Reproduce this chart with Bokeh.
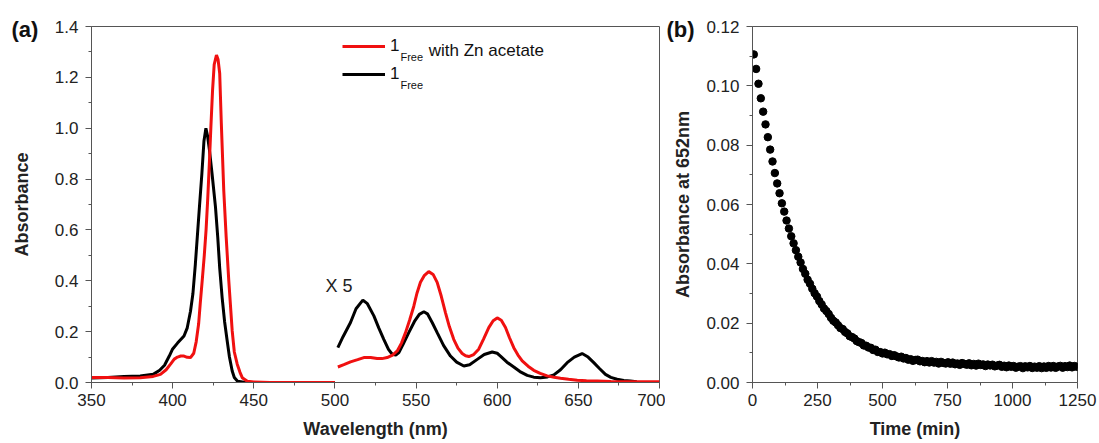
from bokeh.plotting import figure
from bokeh.layouts import row
from bokeh.models import (FixedTicker, Label, Legend, LegendItem,
                          PrintfTickFormatter, Range1d)
from bokeh.core.properties import value
from bokeh.embed import file_html
from bokeh.resources import INLINE

FONT = "Liberation Sans"
RED = "#f01010"
AXIS_GREY = "#555555"

# ---- (a) UV-vis spectra: Soret region (350-500 nm) ----
soret_wl_free = [350, 360, 370, 380, 388, 392, 395, 398, 400, 403, 407, 409,
                 411, 412.5, 414, 415.5, 416.5, 418, 419.3, 420.5, 421.5, 422.7,
                 424.3, 426.4, 427.8, 429, 430.5, 432, 433.6, 435, 436.7, 438,
                 440, 445, 500]
soret_abs_free = [0.018, 0.020, 0.024, 0.026, 0.032, 0.048, 0.068, 0.105, 0.132,
                  0.155, 0.183, 0.215, 0.28, 0.35, 0.466, 0.60, 0.69, 0.82, 0.95,
                  1.0, 0.97, 0.913, 0.82, 0.69, 0.571, 0.45, 0.334, 0.24, 0.164,
                  0.10, 0.045, 0.02, 0.005, 0.0, 0.0]

soret_wl_zn = [350, 360, 370, 380, 388, 392.5, 396, 398.7, 401, 403, 405, 407,
               409, 411, 413, 414.5, 416, 417, 418.2, 419.5, 420.6, 421.6, 422.6,
               423.6, 424.6, 425.6, 427, 428, 429, 430, 431.5, 433, 434.6, 436.7,
               438, 439.8, 441.5, 442.9, 446, 450, 460, 500]
soret_abs_zn = [0.020, 0.020, 0.018, 0.019, 0.024, 0.032, 0.05, 0.072, 0.092,
                0.100, 0.104, 0.104, 0.099, 0.098, 0.115, 0.16, 0.23, 0.31, 0.40,
                0.50, 0.60, 0.72, 0.86, 1.01, 1.15, 1.25, 1.288, 1.27, 1.215,
                1.018, 0.755, 0.571, 0.40, 0.203, 0.12, 0.072, 0.04, 0.019,
                0.005, 0.002, 0.0, 0.0]

# ---- Q-band region (500-700 nm), plotted five times enlarged ----
q_wl_free = [501.8, 505, 509.6, 513, 517.2, 520, 524, 527, 530.1, 533, 535.3,
             537.5, 539.4, 542, 545.5, 549, 552, 554.8, 557, 560, 563, 567,
             571.2, 575, 579.4, 583, 587.7, 592, 596.9, 600, 602, 606, 610.2,
             614, 618.5, 622.5, 626.7, 631, 634.9, 639, 643.1, 647.5, 652.3,
             656, 659.5, 663, 666.7, 670, 673.9, 678, 682, 686]
q_abs_free_x5 = [0.137, 0.18, 0.236, 0.29, 0.324, 0.31, 0.262, 0.215, 0.17,
                 0.13, 0.111, 0.108, 0.118, 0.15, 0.196, 0.24, 0.268, 0.278,
                 0.27, 0.235, 0.196, 0.145, 0.104, 0.08, 0.065, 0.07, 0.091,
                 0.11, 0.12, 0.115, 0.104, 0.08, 0.061, 0.043, 0.028, 0.021,
                 0.019, 0.022, 0.03, 0.05, 0.078, 0.10, 0.114, 0.10, 0.078,
                 0.055, 0.032, 0.02, 0.013, 0.008, 0.006, 0.003]

q_wl_zn = [501.8, 505.5, 509.6, 514, 517.8, 522, 526, 529, 532.2, 535.5,
           538.4, 541, 543.5, 546, 548.6, 550.5, 552.7, 555, 557.8, 560.5,
           563, 565.5, 568.1, 570.5, 573.2, 575.8, 578.4, 580.5, 582.5, 585.5,
           588.6, 591.5, 594.8, 597.5, 600, 602.5, 605.1, 607.5, 610.2, 612.8,
           615.4, 619, 622.5, 626.5, 630.8, 635, 639, 644, 649.3, 655, 661.6,
           670, 678, 690, 700]
q_abs_zn_x5 = [0.061, 0.07, 0.081, 0.09, 0.098, 0.098, 0.094, 0.094, 0.098,
               0.108, 0.124, 0.155, 0.196, 0.245, 0.30, 0.35, 0.394, 0.42,
               0.436, 0.425, 0.394, 0.34, 0.275, 0.22, 0.17, 0.135, 0.114,
               0.105, 0.102, 0.11, 0.131, 0.17, 0.216, 0.243, 0.254, 0.245,
               0.216, 0.177, 0.137, 0.108, 0.085, 0.064, 0.048, 0.036, 0.026,
               0.021, 0.017, 0.013, 0.009, 0.007, 0.006, 0.004, 0.003, 0.003,
               0.003]

wl_ticks = [350, 400, 450, 500, 550, 600, 650, 700]
wl_minor = [375, 425, 475, 525, 575, 625, 675]
abs_ticks = [0.0, 0.2, 0.4, 0.6, 0.8, 1.0, 1.2, 1.4]
abs_minor = [0.1, 0.3, 0.5, 0.7, 0.9, 1.1, 1.3]

# ---- (b) kinetics at 652 nm, one reading every 9 min ----
time_min = list(range(5, 1248, 9))
abs_652 = [
    0.1106, 0.1057, 0.1007, 0.0958, 0.0913, 0.0870, 0.0827, 0.0785, 0.0745, 0.0706,
    0.0671, 0.0638, 0.0604, 0.0576, 0.0546, 0.0519, 0.0493, 0.0469, 0.0446, 0.0424,
    0.04045, 0.0383, 0.03665, 0.03465, 0.0333, 0.0316, 0.0301, 0.02895, 0.02745, 0.0263,
    0.02495, 0.0241, 0.0231, 0.0218, 0.0208, 0.02025, 0.0193, 0.01835, 0.0180, 0.01705,
    0.01655, 0.0156, 0.0153, 0.0148, 0.01395, 0.0136, 0.0133, 0.0125, 0.0124, 0.0118,
    0.0117, 0.01095, 0.01105, 0.0103, 0.01025,
    0.0098, 0.01005, 0.0095, 0.00955, 0.00895, 0.0092, 0.0088, 0.00845, 0.0087, 0.0081,
    0.00825, 0.0077, 0.00785, 0.0073, 0.0076, 0.0077, 0.00715, 0.00725, 0.00685, 0.0072,
    0.00675, 0.0072, 0.0067, 0.00695, 0.0064, 0.00695, 0.0066, 0.0064, 0.0068, 0.00635,
    0.0067, 0.00615, 0.0064, 0.00595, 0.00655, 0.00625, 0.0060, 0.00645, 0.0058, 0.00625,
    0.0057, 0.00635, 0.0059, 0.0061, 0.00555, 0.00605, 0.00575, 0.0060, 0.00545, 0.0057,
    0.00595, 0.0053, 0.00565, 0.00515, 0.0057, 0.0053, 0.00555, 0.0050, 0.00535, 0.0055,
    0.00485, 0.00545, 0.0051, 0.00555, 0.0049, 0.00535, 0.0050, 0.0055, 0.00485, 0.0054,
    0.00495, 0.00555, 0.00505, 0.00555, 0.00495, 0.0054, 0.0056, 0.0050, 0.0055, 0.0052,
    0.0057, 0.0051, 0.00555, 0.0053,
]

time_ticks = [0, 250, 500, 750, 1000, 1250]
time_minor = [125, 375, 625, 875, 1125]
k_ticks = [0.0, 0.02, 0.04, 0.06, 0.08, 0.10, 0.12]
k_minor = [0.01, 0.03, 0.05, 0.07, 0.09, 0.11]


def style_axes(p, xt, xm, yt, ym, yfmt, xlabel, ylabel, ylabel_standoff):
    p.xgrid.visible = False
    p.ygrid.visible = False
    p.outline_line_color = AXIS_GREY
    p.outline_line_width = 1
    p.xaxis.ticker = FixedTicker(ticks=xt, minor_ticks=xm)
    p.yaxis.ticker = FixedTicker(ticks=yt, minor_ticks=ym)
    p.xaxis.formatter = PrintfTickFormatter(format="%d")
    p.yaxis.formatter = PrintfTickFormatter(format=yfmt)
    for ax in (p.xaxis[0], p.yaxis[0]):
        ax.axis_line_color = AXIS_GREY
        ax.major_tick_line_color = AXIS_GREY
        ax.minor_tick_line_color = AXIS_GREY
        ax.major_tick_in = 0
        ax.major_tick_out = 6
        ax.minor_tick_in = 0
        ax.minor_tick_out = 3
        ax.major_label_text_font = FONT
        ax.major_label_text_font_size = "17px"
        ax.major_label_text_color = "#222222"
        ax.axis_label_text_font = FONT
        ax.axis_label_text_font_size = "18px"
        ax.axis_label_text_font_style = "bold"
        ax.axis_label_text_color = "#222222"
    p.xaxis.major_label_standoff = 5
    p.yaxis.major_label_standoff = 7
    p.xaxis.axis_label_standoff = 10
    p.yaxis.axis_label_standoff = ylabel_standoff
    p.xaxis.axis_label = xlabel
    p.yaxis.axis_label = ylabel


def panel_tag(p, x, y, tag):
    # drawn at overlay level so it is not clipped to the plot frame
    p.text(x=[x], y=[y], text=[tag], text_font=value(FONT),
           text_font_size="22px", text_font_style="bold", text_color="#111111",
           text_baseline="middle", level="overlay")


# ---------------- panel (a) ----------------
pa = figure(width=665, height=443, output_backend="svg", toolbar_location=None,
            x_range=Range1d(350, 700), y_range=Range1d(0, 1.4),
            min_border_left=91, min_border_right=6, min_border_top=26,
            min_border_bottom=61)
style_axes(pa, wl_ticks, wl_minor, abs_ticks, abs_minor, "%.1f",
           "Wavelength (nm)", "Absorbance", 20)

free_soret = pa.line(soret_wl_free, soret_abs_free, line_color="black", line_width=3)
free_q = pa.line(q_wl_free, q_abs_free_x5, line_color="black", line_width=3)
zn_soret = pa.line(soret_wl_zn, soret_abs_zn, line_color=RED, line_width=3)
zn_q = pa.line(q_wl_zn, q_abs_zn_x5, line_color=RED, line_width=3)

legend = Legend(items=[LegendItem(label="1", renderers=[zn_soret]),
                       LegendItem(label="1", renderers=[free_soret])],
                location=(251, 298.5), orientation="vertical",
                glyph_width=43, glyph_height=20, label_height=20,
                label_standoff=5, spacing=8, padding=0, margin=0,
                label_text_font=FONT, label_text_font_size="17px",
                label_text_color="#111111",
                border_line_alpha=0, background_fill_alpha=0)
pa.add_layout(legend)

sub_style = dict(text_font=FONT, text_color="#111111", text_baseline="alphabetic")
pa.add_layout(Label(x=540.4, y=1.281, text="Free", text_font_size="11px", **sub_style))
pa.add_layout(Label(x=557.8, y=1.304, text="with Zn acetate", text_font_size="17px",
                    **sub_style))
pa.add_layout(Label(x=540.4, y=1.169, text="Free", text_font_size="11px", **sub_style))
pa.add_layout(Label(x=494.2, y=0.381, text="X 5", text_font=FONT,
                    text_font_size="18px", text_color="#222222",
                    text_baseline="middle"))
panel_tag(pa, 300.7, 1.388, "(a)")

# ---------------- panel (b) ----------------
pb = figure(width=434, height=443, output_backend="svg", toolbar_location=None,
            x_range=Range1d(0, 1250), y_range=Range1d(0, 0.12),
            min_border_left=87, min_border_right=22, min_border_top=26,
            min_border_bottom=61)
style_axes(pb, time_ticks, time_minor, k_ticks, k_minor, "%.2f",
           "Time (min)", "Absorbance at 652nm", 10)

pb.scatter(time_min, abs_652, size=7.5, marker="circle", fill_color="black",
           line_color="black")
panel_tag(pb, -331, 0.119, "(b)")

layout = row(pa, pb)
with open("out.html", "w") as f:
    f.write(file_html(layout, INLINE))
